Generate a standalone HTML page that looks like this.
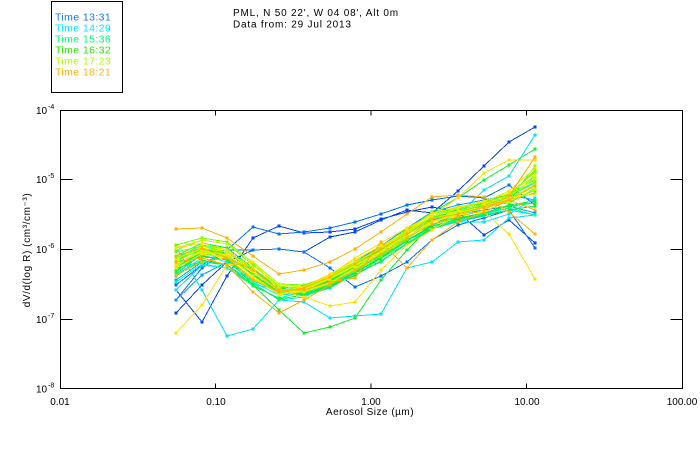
<!DOCTYPE html>
<html><head><meta charset="utf-8"><style>
html,body{margin:0;padding:0;background:#fff;}
svg{display:block;}
text{font-family:"Liberation Sans",sans-serif;fill:#000;}
polyline{fill:none;stroke-width:1;}
.c1{stroke:#0040ff;marker:url(#m1)}
.c2{stroke:#0070ff;marker:url(#m2)}
.c3{stroke:#00a0ff;marker:url(#m3)}
.c4{stroke:#00e0ff;marker:url(#m4)}
.c5{stroke:#00ffb0;marker:url(#m5)}
.c6{stroke:#10f030;marker:url(#m6)}
.c7{stroke:#70ff00;marker:url(#m7)}
.c8{stroke:#c8ff00;marker:url(#m8)}
.c9{stroke:#ffe000;marker:url(#m9)}
.c10{stroke:#ffb000;marker:url(#m10)}
</style></head><body>
<svg width="700" height="450" viewBox="0 0 700 450" xmlns="http://www.w3.org/2000/svg">
<defs>
<marker id="m1" markerUnits="userSpaceOnUse" markerWidth="3" markerHeight="3" refX="1.5" refY="1.5"><rect width="3" height="3" fill="#0040ff"/></marker>
<marker id="m2" markerUnits="userSpaceOnUse" markerWidth="3" markerHeight="3" refX="1.5" refY="1.5"><rect width="3" height="3" fill="#0070ff"/></marker>
<marker id="m3" markerUnits="userSpaceOnUse" markerWidth="3" markerHeight="3" refX="1.5" refY="1.5"><rect width="3" height="3" fill="#00a0ff"/></marker>
<marker id="m4" markerUnits="userSpaceOnUse" markerWidth="3" markerHeight="3" refX="1.5" refY="1.5"><rect width="3" height="3" fill="#00e0ff"/></marker>
<marker id="m5" markerUnits="userSpaceOnUse" markerWidth="3" markerHeight="3" refX="1.5" refY="1.5"><rect width="3" height="3" fill="#00ffb0"/></marker>
<marker id="m6" markerUnits="userSpaceOnUse" markerWidth="3" markerHeight="3" refX="1.5" refY="1.5"><rect width="3" height="3" fill="#10f030"/></marker>
<marker id="m7" markerUnits="userSpaceOnUse" markerWidth="3" markerHeight="3" refX="1.5" refY="1.5"><rect width="3" height="3" fill="#70ff00"/></marker>
<marker id="m8" markerUnits="userSpaceOnUse" markerWidth="3" markerHeight="3" refX="1.5" refY="1.5"><rect width="3" height="3" fill="#c8ff00"/></marker>
<marker id="m9" markerUnits="userSpaceOnUse" markerWidth="3" markerHeight="3" refX="1.5" refY="1.5"><rect width="3" height="3" fill="#ffe000"/></marker>
<marker id="m10" markerUnits="userSpaceOnUse" markerWidth="3" markerHeight="3" refX="1.5" refY="1.5"><rect width="3" height="3" fill="#ffb000"/></marker>
</defs>

<rect x="51.5" y="1.5" width="71" height="91" fill="none" stroke="#000" stroke-width="1"/>
<g font-size="10.5" letter-spacing="0.4">
<text x="55" y="20.5" style="fill:#1478ff">Time 13:31</text>
<text x="55" y="31.5" style="fill:#00e6ff">Time 14:29</text>
<text x="55" y="42.5" style="fill:#00ff78">Time 15:36</text>
<text x="55" y="53.5" style="fill:#28e600">Time 16:32</text>
<text x="55" y="64.5" style="fill:#b4ff00">Time 17:23</text>
<text x="55" y="75.5" style="fill:#ffb400">Time 18:21</text>
</g>

<text x="233" y="16" font-size="10" letter-spacing="0.8">PML, N 50 22', W 04 08', Alt 0m</text>
<text x="233" y="27.5" font-size="10" letter-spacing="0.8">Data from: 29 Jul 2013</text>

<g shape-rendering="crispEdges">
<polyline class="c1" points="176,313 202,285 227,262 253,250 279,249 304,252 330,237 355,232 381,220 407,210 432,213 458,191 484,166 509,142 535,127"/>
<polyline class="c1" points="176,290 202,322 227,276 253,238 279,226 304,233 330,232 355,229 381,219 407,212 432,207 458,212 484,235 509,220 535,243"/>
<polyline class="c2" points="176,285 202,265 227,250 253,250 279,249 304,252 330,268 355,287 381,276 407,262 432,240 458,225 484,218 509,210 535,248"/>
<polyline class="c2" points="176,300 202,268 227,250 253,227 279,234 304,232 330,228 355,222 381,214 407,205 432,200 458,196 484,198 509,185 535,205"/>
<polyline class="c3" points="176,300 202,275 227,262 253,268 279,290 304,288 330,280 355,262 381,246 407,228 432,212 458,205 484,200 509,195 535,200"/>
<polyline class="c3" points="176,280 202,262 227,258 253,270 279,288 304,286 330,278 355,264 381,249 407,233 432,220 458,214 484,210 509,206 535,213"/>
<polyline class="c4" points="176,247 202,290 227,336 253,329 279,300 304,302 330,318 355,316 381,314 407,268 432,262 458,242 484,240 509,218 535,215"/>
<polyline class="c4" points="176,275 202,258 227,256 253,275 279,295 304,292 330,285 355,272 381,255 407,240 432,230 458,215 484,190 509,176 535,135"/>
<polyline class="c4" points="176,268 202,262 227,265 253,282 279,295 304,293 330,285 355,270 381,256 407,240 432,226 458,222 484,222 509,214 535,198"/>
<polyline class="c4" points="176,290 202,265 227,268 253,284 279,290 304,296 330,288 355,273 381,262 407,243 432,228 458,222 484,216 509,210 535,215"/>
<polyline class="c5" points="176,272 202,252 227,255 253,283 279,300 304,297 330,285 355,276 381,258 407,244 432,226 458,220 484,213 509,208 535,200"/>
<polyline class="c5" points="176,262 202,255 227,262 253,281 279,291 304,286 330,277 355,263 381,248 407,237 432,225 458,216 484,205 509,198 535,194"/>
<polyline class="c5" points="176,282 202,264 227,268 253,286 279,298 304,292 330,280 355,268 381,255 407,240 432,228 458,220 484,214 509,208 535,215"/>
<polyline class="c5" points="176,258 202,245 227,250 253,270 279,288 304,293 330,284 355,270 381,253 407,238 432,218 458,210 484,204 509,196 535,183"/>
<polyline class="c6" points="176,268 202,252 227,258 253,285 279,310 304,333 330,327 355,318 381,280 407,250 432,225 458,212 484,203 509,194 535,180"/>
<polyline class="c6" points="176,260 202,250 227,255 253,275 279,292 304,290 330,280 355,265 381,248 407,230 432,212 458,198 484,180 509,165 535,149"/>
<polyline class="c6" points="176,260 202,249 227,255 253,276 279,293 304,287 330,276 355,263 381,247 407,232 432,216 458,211 484,205 509,203 535,188"/>
<polyline class="c6" points="176,268 202,250 227,252 253,272 279,292 304,295 330,285 355,273 381,258 407,241 432,225 458,214 484,207 509,201 535,193"/>
<polyline class="c6" points="176,276 202,260 227,265 253,285 279,299 304,295 330,287 355,275 381,261 407,244 432,229 458,221 484,215 509,210 535,206"/>
<polyline class="c6" points="176,270 202,256 227,260 253,279 279,292 304,289 330,278 355,265 381,250 407,238 432,224 458,218 484,213 509,206 535,203"/>
<polyline class="c6" points="176,256 202,243 227,248 253,268 279,288 304,291 330,281 355,267 381,251 407,233 432,217 458,210 484,206 509,199 535,176"/>
<polyline class="c6" points="176,274 202,254 227,256 253,274 279,293 304,294 330,286 355,273 381,257 407,241 432,226 458,219 484,213 509,205 535,201"/>
<polyline class="c7" points="176,250 202,240 227,244 253,265 279,286 304,289 330,279 355,266 381,251 407,234 432,217 458,209 484,202 509,195 535,182"/>
<polyline class="c7" points="176,258 202,248 227,254 253,276 279,293 304,286 330,275 355,262 381,248 407,233 432,221 458,215 484,208 509,202 535,190"/>
<polyline class="c7" points="176,252 202,246 227,252 253,272 279,291 304,288 330,277 355,264 381,249 407,229 432,214 458,208 484,203 509,194 535,172"/>
<polyline class="c7" points="176,266 202,249 227,251 253,270 279,290 304,292 330,284 355,271 381,256 407,239 432,222 458,213 484,207 509,200 535,166"/>
<polyline class="c7" points="176,245 202,238 227,242 253,263 279,284 304,285 330,276 355,263 381,247 407,232 432,218 458,212 484,205 509,196 535,170"/>
<polyline class="c8" points="176,248 202,240 227,244 253,262 279,284 304,287 330,278 355,264 381,249 407,233 432,216 458,208 484,201 509,193 535,176"/>
<polyline class="c8" points="176,265 202,251 227,256 253,276 279,295 304,290 330,279 355,265 381,251 407,234 432,219 458,213 484,207 509,199 535,185"/>
<polyline class="c8" points="176,260 202,246 227,250 253,272 279,289 304,291 330,282 355,268 381,253 407,237 432,221 458,214 484,208 509,201 535,189"/>
<polyline class="c8" points="176,262 202,248 227,252 253,268 279,287 304,287 330,276 355,263 381,248 407,231 432,216 458,211 484,204 509,196 535,179"/>
<polyline class="c8" points="176,264 202,252 227,258 253,279 279,294 304,289 330,278 355,266 381,252 407,235 432,219 458,212 484,207 509,202 535,174"/>
<polyline class="c9" points="176,333 202,305 227,265 253,262 279,290 304,297 330,306 355,302 381,270 407,245 432,230 458,215 484,212 509,234 535,279"/>
<polyline class="c9" points="176,265 202,250 227,255 253,272 279,290 304,289 330,275 355,258 381,243 407,228 432,215 458,198 484,173 509,160 535,160"/>
<polyline class="c9" points="176,248 202,243 227,250 253,272 279,291 304,287 330,274 355,260 381,246 407,231 432,213 458,207 484,202 509,191 535,168"/>
<polyline class="c9" points="176,268 202,254 227,258 253,278 279,293 304,292 330,283 355,269 381,254 407,238 432,222 458,215 484,206 509,198 535,194"/>
<polyline class="c10" points="176,229 202,228 227,238 253,256 279,274 304,270 330,262 355,249 381,232 407,214 432,197 458,195 484,197 509,212 535,234"/>
<polyline class="c10" points="176,275 202,262 227,258 253,270 279,290 304,290 330,282 355,278 381,242 407,268 432,240 458,222 484,212 509,200 535,210"/>
<polyline class="c10" points="176,262 202,258 227,265 253,292 279,313 304,300 330,285 355,270 381,254 407,238 432,224 458,217 484,210 509,196 535,157"/>
<polyline class="c10" points="176,256 202,248 227,258 253,280 279,292 304,288 330,277 355,264 381,249 407,234 432,219 458,214 484,207 509,200 535,186"/>
</g>

<g stroke="#000" stroke-width="1" fill="none" shape-rendering="crispEdges">
<rect x="60.5" y="110.5" width="622" height="278"/>
<path d="M215.5 388.5V383.5M371 388.5V383.5M526.5 388.5V383.5M215.5 110.5V115.5M371 110.5V115.5M526.5 110.5V115.5"/>
<path d="M60.5 179.5H72.5M60.5 249.5H72.5M60.5 319.5H72.5M682.5 179.5H670.5M682.5 249.5H670.5M682.5 319.5H670.5"/>
</g>

<g font-size="10">
<text x="36" y="114">10</text><text x="48" y="109" font-size="7">-4</text>
<text x="36" y="183">10</text><text x="48" y="178" font-size="7">-5</text>
<text x="36" y="253">10</text><text x="48" y="248" font-size="7">-6</text>
<text x="36" y="323">10</text><text x="48" y="318" font-size="7">-7</text>
<text x="36" y="392.5">10</text><text x="48" y="387.5" font-size="7">-8</text>
</g>

<g font-size="10" text-anchor="middle">
<text x="60" y="405">0.01</text>
<text x="216" y="405">0.10</text>
<text x="371" y="405">1.00</text>
<text x="527" y="405">10.00</text>
<text x="682" y="405">100.00</text>
</g>

<text x="370" y="415" font-size="10" text-anchor="middle" letter-spacing="0.5">Aerosol Size (µm)</text>
<text x="30" y="250" font-size="10" text-anchor="middle" letter-spacing="0.6" transform="rotate(-90 30 250)">dV/d(log R) (cm³/cm⁻³)</text>
</svg>
</body></html>
